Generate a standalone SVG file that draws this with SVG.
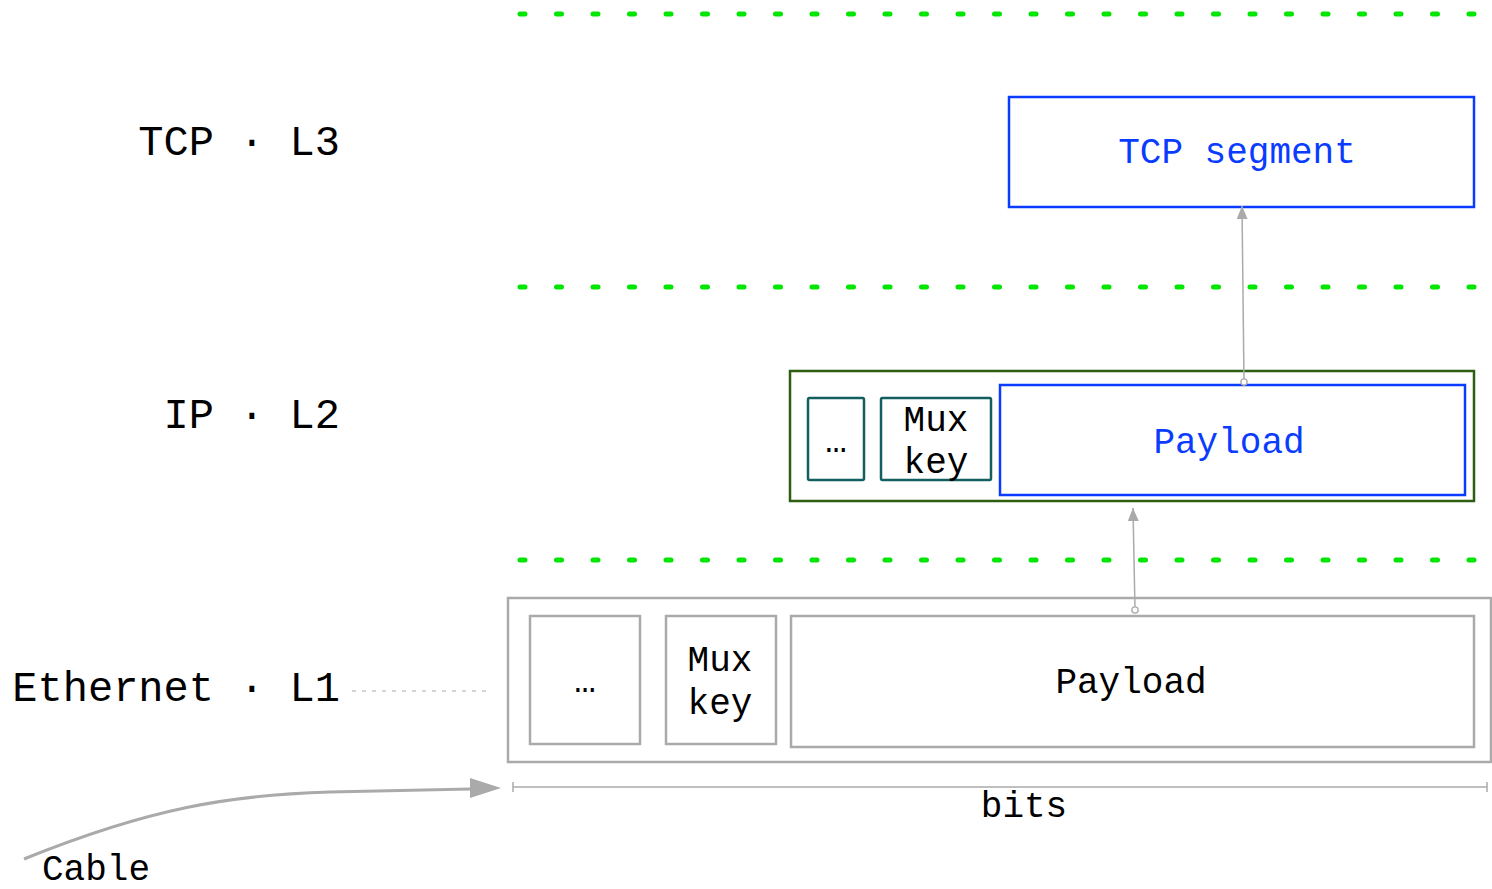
<svg xmlns="http://www.w3.org/2000/svg" width="1492" height="889" viewBox="0 0 1492 889">
<style>
text{font-family:"Liberation Mono","DejaVu Sans Mono",monospace;fill:#000}
.lbl{font-size:42px;text-anchor:end}
.t{font-size:36px;text-anchor:middle}
.sep{stroke:#00e600;stroke-width:5;stroke-linecap:round;stroke-dasharray:5 31.5;fill:none}
.gray{fill:none;stroke:#aaaaaa;stroke-width:2.5}
.teal{fill:none;stroke:#135f5f;stroke-width:2.5}
.blue{fill:none;stroke:#0a3cff;stroke-width:2.5}
.green{fill:none;stroke:#2e5e10;stroke-width:2.5}
.conn{fill:none;stroke:#aaaaaa;stroke-width:1.5}
</style>
<defs>
<marker id="ah" viewBox="0 0 10 10" refX="10" refY="5" markerWidth="13" markerHeight="11" markerUnits="userSpaceOnUse" orient="auto" preserveAspectRatio="none"><path d="M0 0L10 5L0 10z" fill="#aaaaaa"/></marker>
<marker id="dot" viewBox="0 0 10 10" refX="5" refY="5" markerWidth="9" markerHeight="9" markerUnits="userSpaceOnUse"><circle cx="5" cy="5" r="3.5" fill="#fff" stroke="#aaaaaa" stroke-width="1.5"/></marker>
<marker id="tick" viewBox="0 0 2 10" refX="1" refY="5" markerWidth="2" markerHeight="10" markerUnits="userSpaceOnUse" orient="auto"><path d="M1 0V10" stroke="#aaaaaa" stroke-width="1.5"/></marker>
</defs>
<g id="layers">
<line class="sep" x1="520" y1="14" x2="1478" y2="14"/>
<line class="sep" x1="520" y1="287" x2="1478" y2="287"/>
<line class="sep" x1="520" y1="560" x2="1478" y2="560"/>
<text class="lbl" x="340" y="155">TCP · L3</text>
<text class="lbl" x="340" y="428">IP · L2</text>
<text class="lbl" x="340" y="701">Ethernet · L1</text>
</g>
<g id="tcp">
<rect class="blue" x="1009" y="97" width="465" height="110"/>
<text class="t" x="1237" y="163" style="fill:#0a3cff">TCP segment</text>
</g>
<g id="ip">
<rect class="green" x="790" y="371" width="684" height="130"/>
<g id="ip-etc"><rect class="teal" x="808" y="398" width="56" height="82" rx="1.5"/><text class="t" x="836" y="452">…</text></g>
<g id="ip-mux"><rect class="teal" x="881" y="398" width="110" height="82" rx="1.5"/><text class="t" x="936" y="431">Mux</text><text class="t" x="936" y="473">key</text></g>
<g id="ip-payload"><rect class="blue" x="1000" y="385" width="465" height="110"/><text class="t" x="1229" y="453" style="fill:#0a3cff">Payload</text></g>
</g>
<g id="eth">
<rect class="gray" x="508" y="598" width="983" height="164"/>
<g id="eth-etc"><rect class="gray" x="530" y="616" width="110" height="128"/><text class="t" x="585" y="692">…</text></g>
<g id="eth-mux"><rect class="gray" x="666" y="616" width="110" height="128"/><text class="t" x="720" y="671">Mux</text><text class="t" x="720" y="714">key</text></g>
<g id="eth-payload"><rect class="gray" x="791" y="616" width="683" height="131"/><text class="t" x="1131" y="693">Payload</text></g>
</g>
<g id="connectors">
<line class="conn" x1="1135" y1="610" x2="1133" y2="508" marker-start="url(#dot)" marker-end="url(#ah)"/>
<line class="conn" x1="1244" y1="382" x2="1242" y2="206" marker-start="url(#dot)" marker-end="url(#ah)"/>
<line x1="352" y1="691" x2="490" y2="691" stroke="#aaaaaa" stroke-width="1" stroke-dasharray="4 6"/>
<line class="conn" x1="513" y1="787" x2="1487" y2="787" stroke-width="1" marker-start="url(#tick)" marker-end="url(#tick)"/>
<path d="M24 859C150 808 230 795 330 792L470 789" fill="none" stroke="#aaaaaa" stroke-width="3"/>
<path d="M470 778L501 788L470 798z" fill="#aaaaaa"/>
</g>
<g id="annotations">
<text class="t" x="1024" y="817">bits</text>
<text x="42" y="880" style="font-size:36px">Cable</text>
</g>
</svg>
